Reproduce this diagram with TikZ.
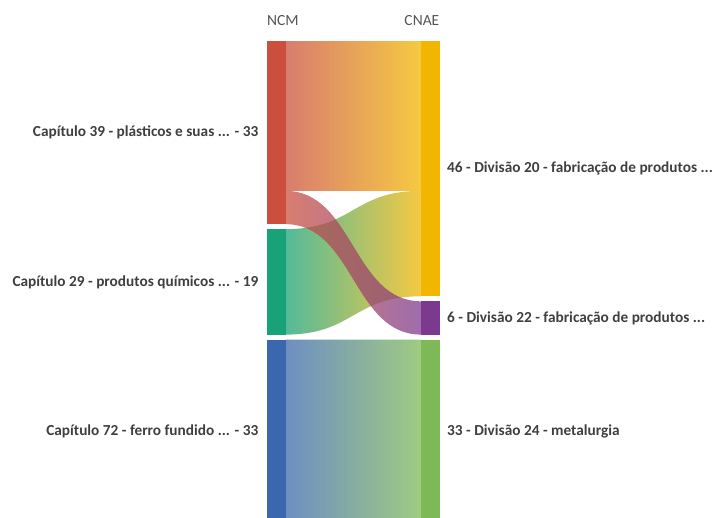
\documentclass[tikz,border=0pt]{standalone}
\usepackage{fontspec}
\setmainfont{Carlito}
\usetikzlibrary{positioning, calc}
\definecolor{labelgray}{HTML}{3F3F3F}
\definecolor{titlegray}{HTML}{555555}
\definecolor{capred}{HTML}{CB4F3D}
\definecolor{capgreen}{HTML}{17A277}
\definecolor{capblue}{HTML}{3A67AD}
\definecolor{divyellow}{HTML}{F2B600}
\definecolor{divpurple}{HTML}{7C3A8E}
\definecolor{divgreen}{HTML}{7DB956}

\begin{document}
\begin{tikzpicture}[
    x=1pt, y=-1pt,
    bar/.style={draw=none, rectangle, inner sep=0pt, outer sep=0pt,
        minimum width=18.5pt, minimum height=#1*5.55pt},
    flow/.style 2 args={left color=#1, right color=#2, shading=axis,
        draw=none, fill opacity=0.74},
    left label/.style={font=\fontsize{15.3}{17}\selectfont\bfseries,
        text=labelgray, inner sep=0pt, anchor=east},
    right label/.style={font=\fontsize{15.3}{17}\selectfont\bfseries,
        text=labelgray, inner sep=0pt, anchor=west},
    col title/.style={font=\fontsize{15.5}{17}\selectfont, text=titlegray,
        inner sep=0pt},
]

% ══════════════════════════════════════════════════════════════════════
%  FRAME — page is 715 x 517, bottom bars run off the edge
% ══════════════════════════════════════════════════════════════════════
\useasboundingbox (0,0) rectangle (715,517);
\clip (0,0) rectangle (715,517);
\def\vu{5.55}   % pixels per unit

% ── NCM column ────────────────────────────────────────────────────────
\node[bar=33, fill=capred, anchor=north west] (c39) at (267,41) {};
\node[bar=19, fill=capgreen, below=5pt of c39] (c29) {};
\node[bar=33, fill=capblue, below=5pt of c29] (c72) {};

% ── CNAE column ───────────────────────────────────────────────────────
\node[bar=46, fill=divyellow, anchor=north west] (d20) at (421,41) {};
\node[bar=6, fill=divpurple, below=5pt of d20] (d22) {};
\node[bar=33, fill=divgreen, below=5pt of d22] (d24) {};

% ── Flows ─────────────────────────────────────────────────────────────
\shade[flow={capred}{divyellow}] (c39.north east) -- (d20.north west)
    -- ($(d20.north west)+(0,27*\vu)$) -- ($(c39.north east)+(0,27*\vu)$)
    -- cycle;
\shade[flow={capgreen}{divyellow}] (c29.north east)
    .. controls +(68,0) and +(-68,0) .. ($(d20.north west)+(0,27*\vu)$)
    -- (d20.south west)
    .. controls +(-68,0) and +(68,0) .. (c29.south east) -- cycle;
\shade[flow={capred}{divpurple}] ($(c39.north east)+(0,27*\vu)$)
    .. controls +(68,0) and +(-68,0) .. (d22.north west)
    -- (d22.south west)
    .. controls +(-68,0) and +(68,0) .. (c39.south east) -- cycle;
\shade[flow={capblue}{divgreen}] (c72.north east) -- (d24.north west)
    -- (d24.south west) -- (c72.south east) -- cycle;

% ── Labels ────────────────────────────────────────────────────────────
\node[col title, anchor=west] (ncm) at (267,21) {NCM};
\node[col title, anchor=east] (cnae) at (439.5,21) {CNAE};

\node[left label, left=8.5pt of c39] (l39) {Capítulo 39 - plásticos e suas ... - 33};
\node[left label, left=8.5pt of c29] (l29) {Capítulo 29 - produtos químicos ... - 19};
\node[left label, left=8.5pt of c72] (l72) {Capítulo 72 - ferro fundido ... - 33};

\node[right label, right=7.5pt of d20] (r20) {46 - Divisão 20 - fabricação de produtos ...};
\node[right label, right=7.5pt of d22] (r22) {6 - Divisão 22 - fabricação de produtos ...};
\node[right label, right=7.5pt of d24] (r24) {33 - Divisão 24 - metalurgia};

\end{tikzpicture}
\end{document}
